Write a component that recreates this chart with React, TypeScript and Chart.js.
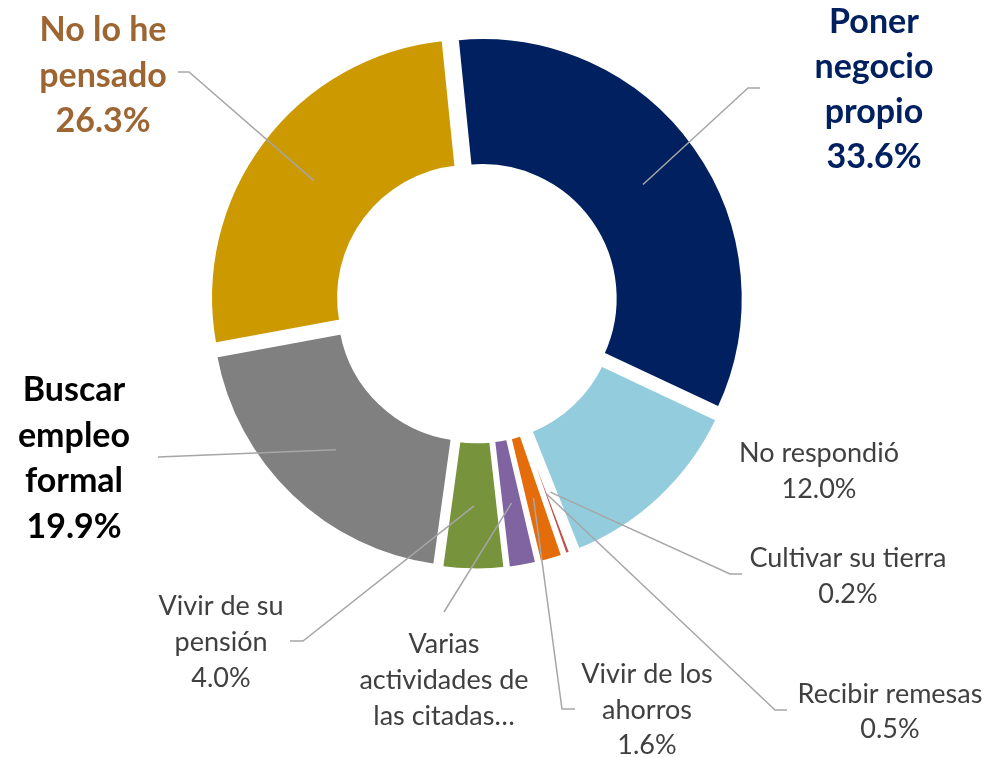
import React, { useEffect, useRef } from "react";
import { Chart, registerables } from "chart.js";

Chart.register(...registerables);

// ---- Data ----
const categories = [
  "Poner\nnegocio\npropio",
  "No respondió",
  "Cultivar su tierra",
  "Recibir remesas",
  "Vivir de los\nahorros",
  "Varias\nactividades de\nlas citadas…",
  "Vivir de su\npensión",
  "Buscar\nempleo\nformal",
  "No lo he\npensado",
];
const values = [33.6, 12.0, 0.2, 0.5, 1.6, 1.9, 4.0, 19.9, 26.3];
// whether the percentage is printed in the data label (the long one is truncated in the original)
const valueShown = [true, true, true, true, true, false, true, true, true];
const sliceColors = [
  "#002060",
  "#93CDDD",
  "#C0504D",
  "#C0504D",
  "#E46C0A",
  "#8064A2",
  "#77933C",
  "#808080",
  "#CC9900",
];
// explosion per slice (Chart.js arc offset)
const explode = [30, 26, 16, 16, 17, 17, 18, 31, 32];

// ---- Label layout ----
type LabelLayout = {
  x: number;
  y: number;
  lh: number;
  color: string;
  bold: boolean;
  leader?: [number, number][];
};
const labelLayout: LabelLayout[] = [
  { x: 874, y: 33, lh: 45, color: "#002060", bold: true, leader: [[760, 88], [748, 88]] },
  { x: 819, y: 462, lh: 36, color: "#404040", bold: false },
  { x: 848, y: 567, lh: 36, color: "#404040", bold: false, leader: [[742, 574], [730, 574]] },
  { x: 890, y: 703, lh: 35, color: "#404040", bold: false, leader: [[787, 710], [775, 710]] },
  { x: 647, y: 683, lh: 35.5, color: "#404040", bold: false, leader: [[575, 709], [562, 709]] },
  { x: 444, y: 653, lh: 36, color: "#404040", bold: false, leader: [[444, 612]] },
  { x: 221, y: 615, lh: 36, color: "#404040", bold: false, leader: [[290, 641], [303, 641]] },
  { x: 74, y: 401, lh: 45.7, color: "#000000", bold: true, leader: [[158, 457]] },
  { x: 103, y: 41, lh: 45.5, color: "#9C6532", bold: true, leader: [[178, 72], [189, 72]] },
];

const FONT = "Lato, 'Open Sans', sans-serif";

const labelsPlugin = {
  id: "outerLabels",
  afterDraw(chart: any) {
    const ctx = chart.ctx as CanvasRenderingContext2D;
    const meta = chart.getDatasetMeta(0);
    ctx.save();
    meta.data.forEach((el: any, i: number) => {
      const lay = labelLayout[i];
      if (!lay) return;
      const { x, y, startAngle, endAngle, innerRadius, outerRadius } = el.getProps(
        ["x", "y", "startAngle", "endAngle", "innerRadius", "outerRadius"],
        true
      );
      const mid = (startAngle + endAngle) / 2;
      const t = (el.options.offset || 0) / 4;
      const circ = endAngle - startAngle;
      const fix = 1 - Math.sin(Math.min(Math.PI, circ));
      const g = t * fix;
      const cx = x + Math.cos(mid) * t;
      const cy = y + Math.sin(mid) * t;
      const rr = (innerRadius + outerRadius) / 2 + g;
      const ex = cx + Math.cos(mid) * rr;
      const ey = cy + Math.sin(mid) * rr;

      if (lay.leader) {
        ctx.beginPath();
        ctx.strokeStyle = "#A6A6A6";
        ctx.lineWidth = 1.5;
        lay.leader.forEach(([px, py], k) => {
          if (k === 0) ctx.moveTo(px, py);
          else ctx.lineTo(px, py);
        });
        ctx.lineTo(ex, ey);
        ctx.stroke();
      }

      const lines = categories[i].split("\n");
      if (valueShown[i]) lines.push(`${values[i].toFixed(1)}%`);
      ctx.fillStyle = lay.color;
      ctx.textAlign = "center";
      ctx.textBaseline = "alphabetic";
      ctx.font = lay.bold ? `bold 34px ${FONT}` : `27px ${FONT}`;
      lines.forEach((ln, k) => {
        ctx.fillText(ln, lay.x, lay.y + k * lay.lh);
      });
    });
    ctx.restore();
  },
};

export default function App() {
  const canvasRef = useRef<HTMLCanvasElement | null>(null);

  useEffect(() => {
    if (!canvasRef.current) return;
    const chart = new Chart(canvasRef.current, {
      type: "doughnut",
      data: {
        labels: categories.map((c) => c.replace(/\n/g, " ")),
        datasets: [
          {
            data: values,
            backgroundColor: sliceColors,
            borderColor: "#ffffff",
            borderWidth: 4.6,
            offset: explode,
            hoverOffset: explode,
          },
        ],
      },
      options: {
        responsive: false,
        animation: false,
        events: [],
        rotation: -5.8,
        radius: 260.3,
        cutout: "50.2%",
        layout: { padding: { left: 0, right: 36, top: 0, bottom: 152 } },
        plugins: {
          legend: { display: false },
          tooltip: { enabled: false },
        },
      },
      plugins: [labelsPlugin],
    });
    return () => chart.destroy();
  }, []);

  return (
    <div style={{ position: "fixed", left: 0, top: 0, width: 989, height: 757, background: "#ffffff" }}>
      <canvas ref={canvasRef} width={989} height={757} style={{ display: "block", width: 989, height: 757 }} />
    </div>
  );
}
